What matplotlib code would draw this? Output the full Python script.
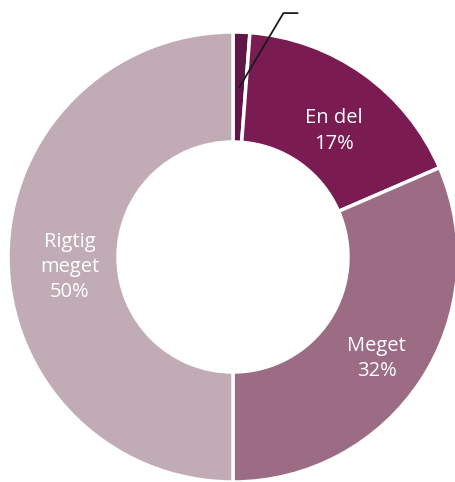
import numpy as np
import matplotlib.pyplot as plt

labels = ['', 'En del', 'Meget', 'Rigtig\nmeget']
values = [1.2, 17.3, 31.5, 50.0]
colors = ['#5e1646', '#7a1c52', '#9b6c84', '#c1acb5']

W, H = 455, 482
fig = plt.figure(figsize=(W / 100, H / 100), dpi=100)
ax = fig.add_axes([0, 0, 1, 1])

cx, cy = 233, H - 257
R = 225
ring = 110

wedges, _ = ax.pie(values, colors=colors, startangle=90, counterclock=False,
                   radius=R, center=(cx, cy),
                   wedgeprops=dict(width=ring, edgecolor='white', linewidth=2.5))

# labels in the middle of the ring
for w, lab, v in zip(wedges, labels, values):
    ang = np.deg2rad((w.theta1 + w.theta2) / 2)
    r = R - ring / 2 - 3
    x = cx + r * np.cos(ang) + 4
    y = cy + r * np.sin(ang) - 10
    if lab:
        ax.text(x, y, '%s\n%d%%' % (lab, round(v)), ha='center', va='center',
                color='white', fontsize=14.5, family='Open Sans',
                linespacing=1.35)

# leader line for the tiny slice
w = wedges[0]
ang = np.deg2rad((w.theta1 + w.theta2) / 2)
r = R - ring / 2
x0, y0 = cx + r * np.cos(ang), cy + r * np.sin(ang)
ax.plot([x0, x0 + 44, x0 + 58], [y0, y0 + 74, y0 + 74], color='#1a1a1a', lw=1.3)

ax.set_xlim(0, W)
ax.set_ylim(0, H)
ax.set_aspect('equal')
ax.axis('off')

fig.savefig('out.png', dpi=100)
